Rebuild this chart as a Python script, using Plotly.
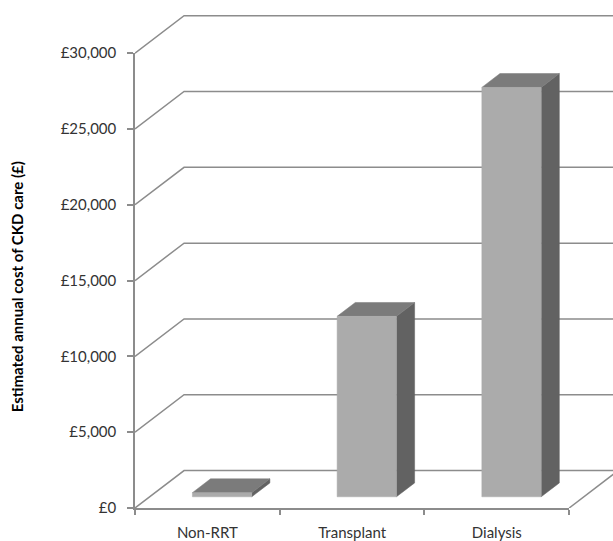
import plotly.graph_objects as go

# ---- data ----
categories = ["Non-RRT", "Transplant", "Dialysis"]
costs = [270, 11900, 27000]
y_tick_values = [0, 5000, 10000, 15000, 20000, 25000, 30000]
y_tick_labels = ["£0", "£5,000", "£10,000", "£15,000", "£20,000", "£25,000", "£30,000"]
y_title = "Estimated annual cost of CKD care (£)"

# ---- style / projection constants ----
FRONT_MAX = 30000
Y_MAX = 32846          # full value range of drawing axis (includes back-wall depth)
X_MAX = 3.303          # full category range of drawing axis
KX, KY = 0.339, 2470   # oblique depth offset of the floor (x units, value units)
BAR_W = 0.41
BAR_DEPTH = 0.37       # fraction of floor depth
BAR_FRONT = 0.30       # fraction of floor depth before bar front face
GRID = "#8c8c8c"
FRONT_C, TOP_C, SIDE_C = "#ababab", "#7b7b7b", "#626262"
FONT = "Lato"
TXT = "#333333"

n = len(categories)
fig = go.Figure()

# dummy trace so the front-axis subplot exists
fig.add_trace(go.Scatter(x=[None], y=[None], xaxis="x", yaxis="y",
                         showlegend=False, hoverinfo="skip"))

# back wall gridlines with left-wall diagonals
gx, gy = [], []
for v in y_tick_values:
    gx += [0, KX, n + KX + 0.5, None]
    gy += [v, v + KY, v + KY, None]
# floor right edge
gx += [n, n + KX, None]
gy += [0, KY, None]
fig.add_trace(go.Scatter(x=gx, y=gy, mode="lines", xaxis="x2", yaxis="y2",
                         line=dict(color=GRID, width=1.5), showlegend=False,
                         hoverinfo="skip"))

ox, oy = BAR_FRONT * KX, BAR_FRONT * KY
bx, by = BAR_DEPTH * KX, BAR_DEPTH * KY


def face(xs, ys, color):
    fig.add_trace(go.Scatter(x=xs + [xs[0]], y=ys + [ys[0]], mode="lines",
                             fill="toself", fillcolor=color,
                             line=dict(color=color, width=0.5),
                             xaxis="x2", yaxis="y2", showlegend=False,
                             hoverinfo="skip"))


for i, v in enumerate(costs):
    x0 = i + 0.5 - BAR_W / 2 + ox
    x1 = i + 0.5 + BAR_W / 2 + ox
    b = oy
    t = v + oy
    # side face
    face([x1, x1 + bx, x1 + bx, x1], [b, b + by, t + by, t], SIDE_C)
    # top face
    face([x0, x1, x1 + bx, x0 + bx], [t, t, t + by, t + by], TOP_C)
    # front face
    face([x0, x1, x1, x0], [b, b, t, t], FRONT_C)

fig.update_layout(
    width=613, height=541,
    margin=dict(l=135, r=0, t=8, b=32),
    paper_bgcolor="white", plot_bgcolor="rgba(0,0,0,0)",
    font=dict(family=FONT, size=15, color=TXT),
    showlegend=False,
    xaxis=dict(domain=[0, n / X_MAX], range=[0, n], anchor="y",
               showline=True, linecolor=GRID, linewidth=1.5,
               showgrid=False, zeroline=False,
               tickvals=[i + 0.5 for i in range(n)], ticktext=categories,
               ticks="", ticklabelstandoff=10,
               minor=dict(tickvals=list(range(n + 1)), ticks="outside",
                          ticklen=5, tickcolor=GRID, tickwidth=1.5,
                          showgrid=False),
               fixedrange=True),
    yaxis=dict(domain=[0, FRONT_MAX / Y_MAX], range=[0, FRONT_MAX], anchor="x",
               showline=True, linecolor=GRID, linewidth=1.5,
               showgrid=False, zeroline=False,
               tickvals=y_tick_values, ticktext=y_tick_labels,
               ticks="outside", ticklen=6, tickcolor=GRID, tickwidth=1.5,
               ticklabelstandoff=8, fixedrange=True),
    xaxis2=dict(domain=[0, 1], range=[0, X_MAX], anchor="y2", visible=False,
                fixedrange=True),
    yaxis2=dict(domain=[0, 1], range=[0, Y_MAX], anchor="x2", visible=False,
                fixedrange=True),
    annotations=[dict(text="<b>" + y_title + "</b>", xref="paper", yref="paper",
                      x=-0.247, y=0.445, xanchor="center", yanchor="middle",
                      textangle=-90, showarrow=False,
                      font=dict(family=FONT, size=15, color="#000000"))],
)

fig.write_html("out.html")
